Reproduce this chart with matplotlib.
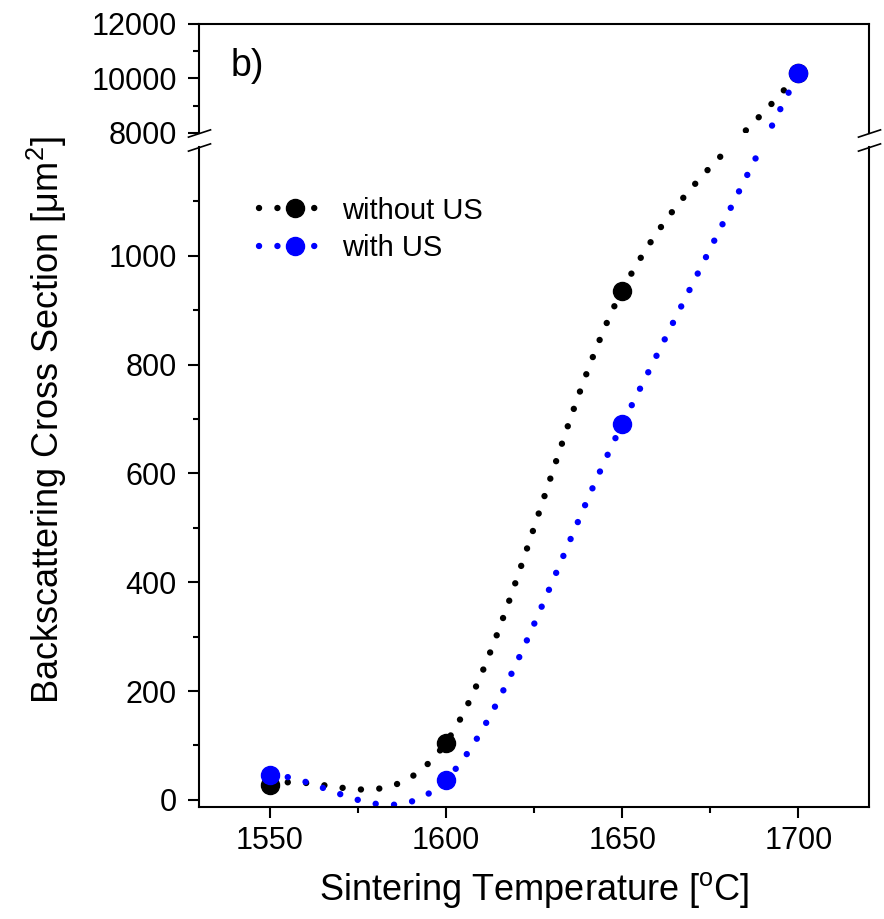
import numpy as np
import matplotlib.pyplot as plt
from matplotlib.lines import Line2D

temps = [1550, 1600, 1650, 1700]
without_us = [28, 105, 936, 10200]
with_us = [46, 37, 690, 10200]
labels = ['without US', 'with US']
colors = ['black', 'blue']

plt.rcParams['font.family'] = 'Liberation Sans'
plt.rcParams['mathtext.fontset'] = 'custom'
plt.rcParams['mathtext.rm'] = 'Liberation Sans'
plt.rcParams['mathtext.it'] = 'Liberation Sans:italic'

LOW_MAX = 1200
fig = plt.figure(figsize=(8.84, 9.19), dpi=100)
ax_lo = fig.add_axes([0.2251, 0.1219, 0.7579, 0.7182])
ax_hi = fig.add_axes([0.2251, 0.8553, 0.7579, 0.1186])

for ax in (ax_lo, ax_hi):
    ax.set_xlim(1530, 1720)
    for s in ax.spines.values():
        s.set_linewidth(1.5)
    ax.tick_params(which='both', direction='out', width=1.5, labelsize=22,
                   right=False, top=False)
    ax.tick_params(which='major', length=8)
    ax.tick_params(which='minor', length=4.5)
    ax.tick_params(axis='y', pad=8)
    ax.tick_params(axis='x', pad=6)
ax_lo.set_ylim(-13, LOW_MAX)
ax_hi.set_ylim(8000, 12000)

ax_lo.set_xticks(temps)
ax_lo.set_xticks([1575, 1625, 1675], minor=True)
ax_lo.set_yticks(range(0, 1001, 200))
ax_lo.set_yticks(range(100, 1200, 200), minor=True)
ax_hi.set_yticks([8000, 10000, 12000])
ax_hi.set_yticks([9000, 11000], minor=True)
ax_hi.tick_params(axis='x', which='both', bottom=False, labelbottom=False)
ax_lo.spines['top'].set_visible(False)
ax_hi.spines['bottom'].set_visible(False)


def smooth_curve(x, y):
    # hermite spline through the points in screen space, across the axis break
    pts = []
    for xi, yi in zip(x, y):
        ax = ax_lo if yi <= LOW_MAX else ax_hi
        pts.append(ax.transData.transform((xi, yi)))
    pts = np.array(pts)
    px, py = pts[:, 0], pts[:, 1]
    n = len(px)
    m = np.empty(n)
    m[0] = (py[1] - py[0]) / (px[1] - px[0])
    m[-1] = (py[-1] - py[-2]) / (px[-1] - px[-2])
    m[1:-1] = (py[2:] - py[:-2]) / (px[2:] - px[:-2])
    xs, ys = [], []
    for i in range(n - 1):
        h = px[i + 1] - px[i]
        t = np.linspace(0, 1, 80, endpoint=(i == n - 2))
        h00 = 2 * t**3 - 3 * t**2 + 1
        h10 = t**3 - 2 * t**2 + t
        h01 = -2 * t**3 + 3 * t**2
        h11 = t**3 - t**2
        ys.append(h00 * py[i] + h10 * h * m[i] + h01 * py[i + 1] + h11 * h * m[i + 1])
        xs.append(px[i] + t * h)
    return np.column_stack([np.concatenate(xs), np.concatenate(ys)])


dots = dict(lw=4.6, linestyle=(0, (0.01, 2.87)), dash_capstyle='round')
for vals, c in zip([without_us, with_us], colors):
    disp = smooth_curve(temps, vals)
    for ax in (ax_lo, ax_hi):
        d = ax.transData.inverted().transform(disp)
        ax.plot(d[:, 0], d[:, 1], color=c, **dots)
        ax.plot(temps, vals, 'o', color=c, ms=13)

# break marks on both spines
brk = dict(marker=[(-1, -0.33), (1, 0.33)], markersize=17, linestyle='none',
           color='k', mec='k', mew=1.2, clip_on=False)
ax_hi.plot([0, 1], [0, 0], transform=ax_hi.transAxes, **brk)
ax_lo.plot([0, 1], [1, 1], transform=ax_lo.transAxes, **brk)

handles = [Line2D([], [], color=c, marker='o', ms=13, **dots) for c in colors]
fig.legend(handles, labels, loc='upper left', bbox_to_anchor=(0.293, 0.786),
           frameon=False, fontsize=21, handlelength=2.45, handletextpad=0.4,
           labelspacing=0.32, borderpad=0, borderaxespad=0, numpoints=1)

ax_lo.set_xlabel('Sintering Temperature [$^{\\rm o}$C]', fontsize=26, labelpad=10)
fig.text(0.053, 0.543, 'Backscattering Cross Section [μm$^2$]', fontsize=26,
         rotation=90, ha='center', va='center')
fig.text(0.261, 0.917, 'b)', fontsize=27, va='baseline')

fig.savefig('out.png', dpi=100)
